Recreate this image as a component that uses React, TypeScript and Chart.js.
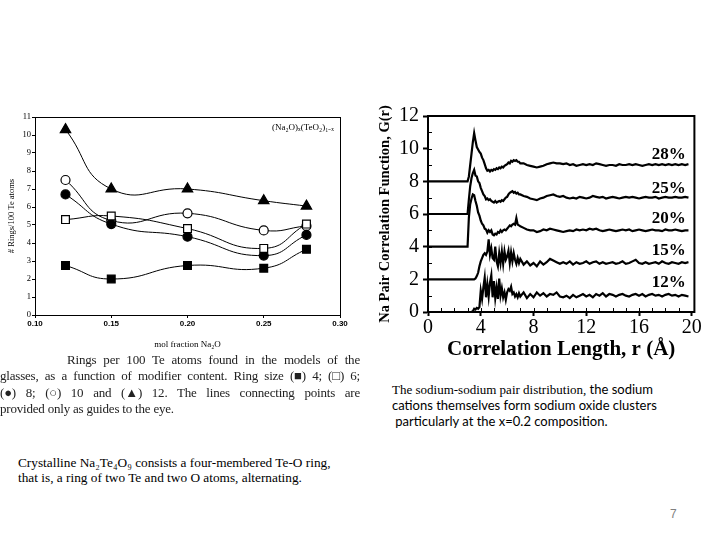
import React, { useEffect, useRef } from 'react';
import { Chart, registerables } from 'chart.js';
Chart.register(...registerables);

// ---------- Left chart: rings per 100 Te atoms ----------
const molFraction = [0.12, 0.15, 0.2, 0.25, 0.278];
const ring4 = [2.75, 2.0, 2.75, 2.6, 3.65];
const ring6 = [5.3, 5.5, 4.8, 3.7, 5.05];
const ring8 = [6.7, 5.05, 4.35, 3.3, 4.45];
const ring10 = [7.5, 5.25, 5.65, 4.7, 4.95];
const ring12 = [10.3, 7.0, 7.0, 6.35, 6.05];
const molTicks = [0.1, 0.15, 0.2, 0.25, 0.3];
const ringTicks = [0, 1, 2, 3, 4, 5, 6, 7, 8, 9, 10, 11];

// ---------- Right chart: Na pair correlation function ----------
const rGrid = [0,
  3.0, 3.1, 3.2, 3.3, 3.4, 3.5, 3.6, 3.7, 3.8, 3.9,
  4.0, 4.1, 4.2, 4.3, 4.4, 4.5, 4.6, 4.7, 4.8, 4.9,
  5.0, 5.1, 5.2, 5.3, 5.4, 5.5, 5.6, 5.7, 5.8, 5.9,
  6.0, 6.1, 6.2, 6.3, 6.4, 6.5, 6.6, 6.7, 6.8, 6.9,
  7.0,
  7.25, 7.5, 7.75, 8.0, 8.25, 8.5, 8.75, 9.0, 9.25, 9.5,
  9.75, 10.0, 10.25, 10.5, 10.75, 11.0, 11.25, 11.5, 11.75, 12.0,
  12.25, 12.5, 12.75, 13.0, 13.25, 13.5, 13.75, 14.0, 14.25, 14.5,
  14.75, 15.0, 15.25, 15.5, 15.75, 16.0, 16.25, 16.5, 16.75, 17.0,
  17.25, 17.5, 17.75, 18.0, 18.25, 18.5, 18.75, 19.0, 19.25, 19.5,
  19.75];

const g28 = [8,
  8, 8.3, 9.0, 9.7, 10.4, 10.95, 10.5, 10.1, 9.95, 9.8,
  9.7, 9.45, 9.3, 9.05, 8.8, 8.65, 8.7, 8.6, 8.7, 8.65,
  8.75, 8.7, 8.8, 8.75, 8.85, 8.8, 8.9, 8.85, 8.95, 9.0,
  9.05, 9.15, 9.1, 9.25, 9.2, 9.3, 9.25, 9.3, 9.2, 9.2,
  9.1,
  9.1, 9.0, 8.95, 8.9, 8.85, 8.9, 8.95, 9.05, 9.1, 9.15,
  9.1, 9.1, 9.05, 9.1, 9.0, 9.05, 8.95, 9.0, 9.05, 9.0,
  9.05, 9.0, 9.1, 9.05, 9.0, 8.95, 9.0, 9.0, 8.95, 9.05,
  9.0, 9.0, 9.05, 9.0, 9.05, 9.0, 8.95, 9.0, 9.05, 9.0,
  9.05, 9.0, 9.05, 9.0, 9.05, 9.0, 9.05, 9.0, 9.05, 9.0,
  9.05];

const g25 = [6,
  6, 6.9, 7.7, 8.2, 8.5, 8.7, 8.35, 8.3, 8.0, 7.9,
  7.6, 7.4, 7.2, 7.1, 6.9, 6.95, 6.85, 6.9, 6.8, 6.75,
  6.7, 6.8, 6.7, 6.75, 6.8, 6.75, 6.85, 6.8, 6.9, 7.0,
  7.05, 7.2, 7.3, 7.35, 7.4, 7.3, 7.35, 7.25, 7.3, 7.2,
  7.2,
  7.1, 7.05, 6.95, 6.9, 6.85, 6.95, 7.0, 7.1, 7.15, 7.2,
  7.1, 7.05, 7.1, 7.0, 6.95, 7.0, 6.95, 7.05, 7.0, 6.95,
  7.0, 7.1, 7.05, 7.0, 7.05, 6.95, 7.0, 7.05, 7.0, 6.95,
  7.0, 7.05, 7.0, 7.05, 7.0, 6.95, 7.0, 7.05, 7.0, 7.0,
  7.05, 6.95, 7.0, 7.05, 7.0, 7.0, 7.05, 7.0, 7.0, 7.05,
  7.0];

const g20 = [4,
  4, 5.8, 6.6, 6.95, 7.2, 7.15, 6.8, 6.5, 6.1, 5.9,
  5.6, 5.4, 5.3, 5.1, 5.05, 4.85, 5.0, 4.9, 5.0, 4.75,
  4.7, 4.8, 4.75, 4.9, 4.85, 5.0, 4.9, 5.0, 5.05, 5.0,
  5.1, 5.2, 5.3, 5.25, 5.35, 5.4, 5.35, 5.75, 5.35, 5.3,
  5.25,
  5.15, 5.05, 5.0, 5.0, 4.9, 4.95, 5.05, 5.0, 5.1, 5.05,
  5.0, 4.95, 4.9, 4.95, 5.0, 4.95, 5.05, 5.0, 5.05, 5.0,
  5.1, 5.05, 5.1, 5.0, 4.95, 5.0, 5.05, 5.0, 4.95, 5.0,
  5.05, 5.0, 5.05, 4.95, 5.0, 5.05, 5.0, 4.95, 5.0, 5.05,
  5.0, 5.0, 4.95, 5.05, 5.0, 5.0, 5.05, 5.0, 4.95, 5.0,
  5.0];

const g15 = [2,
  2, 2, 2, 2, 2, 2, 2.05, 2.2, 2.4, 2.8,
  3.1, 3.3, 3.5, 3.6, 3.5, 3.7, 4.45, 3.5, 3.9, 3.3,
  3.2, 4.0, 3.1, 2.8, 3.6, 3.0, 3.7, 2.95, 3.7, 3.2,
  3.4, 3.75, 3.0, 3.65, 3.1, 3.6, 3.2, 2.95, 3.3, 3.0,
  3.25,
  2.9, 3.1, 2.85, 3.0, 2.8, 3.1, 2.9, 3.05, 3.25, 3.15,
  3.05, 2.95, 3.05, 2.95, 3.1, 2.9, 3.05, 2.95, 3.0, 3.1,
  2.95, 3.05, 3.1, 2.95, 3.05, 2.95, 3.0, 3.05, 2.95, 3.0,
  3.1, 2.95, 3.0, 3.1, 3.2, 3.0, 2.95, 3.05, 2.95, 3.0,
  3.05, 2.95, 3.1, 3.0, 2.95, 3.05, 3.0, 2.95, 3.05, 3.0,
  3.05];

const g12 = [0,
  0, 0, 0, 0, 0.05, 0.2, 0.15, 0.25, 0.2, 0.3,
  1.3, 0.8, 1.5, 2.1, 0.9, 1.7, 0.95, 1.8, 2.25, 0.9,
  1.9, 0.85, 1.5, 0.8, 2.05, 1.0, 1.45, 0.9, 1.2, 0.75,
  1.2, 1.4, 1.3, 1.55, 1.1, 1.2, 0.95, 1.1, 0.9, 1.15,
  0.95,
  1.2, 0.85, 1.1, 0.9, 1.2, 1.0, 1.15, 0.95, 1.1, 1.05,
  1.2, 0.95, 0.9, 1.0, 0.85, 1.05, 0.9, 1.0, 1.1, 0.95,
  1.05, 0.9, 1.1, 1.0, 1.15, 0.95, 1.1, 1.05, 0.95, 1.05,
  1.1, 1.0, 0.95, 1.05, 1.1, 1.0, 1.1, 0.95, 1.05, 1.1,
  1.0, 1.05, 0.95, 1.05, 1.1, 1.0, 1.05, 0.95, 1.05, 1.0,
  0.95];

const curveLabels = ['28%', '25%', '20%', '15%', '12%'];
const curveLabelY = [9.63, 7.55, 5.7, 3.75, 1.77];
const curveLabelX = 19.55;
const rTicks = [0, 4, 8, 12, 16, 20];
const gTicks = [0, 2, 4, 6, 8, 10, 12];

const SERIF = '"Liberation Serif", "Times New Roman", serif';
const SANS = '"Liberation Sans", Arial, sans-serif';

function RingsChart() {
  const ref = useRef<HTMLCanvasElement>(null);
  useEffect(() => {
    const mk = (vals: number[], style: string, filled: boolean, radius: number) => ({
      data: molFraction.map((x, i) => ({ x, y: vals[i] })),
      borderColor: '#000',
      borderWidth: 1,
      tension: 0.5,
      fill: false,
      pointStyle: style,
      pointRadius: radius,
      pointBackgroundColor: filled ? '#000' : '#fff',
      pointBorderColor: '#000',
      pointBorderWidth: 1.2,
    });
    const frame = {
      id: 'frameLeft',
      afterDraw(chart: any) {
        const { ctx, chartArea: a, scales } = chart;
        ctx.save();
        ctx.strokeStyle = '#000';
        ctx.lineWidth = 1;
        ctx.strokeRect(a.left + 0.5, a.top + 0.5, a.right - a.left, a.bottom - a.top);
        ctx.fillStyle = '#000';
        ctx.font = `9px ${SERIF}`;
        ctx.textAlign = 'right';
        ctx.textBaseline = 'middle';
        ctx.fillText('(Na\u2082O)\u2093(TeO\u2082)\u2081\u208B\u2093', scales.x.getPixelForValue(0.296), scales.y.getPixelForValue(10.4));
        ctx.restore();
      },
    };
    const chart = new Chart(ref.current as HTMLCanvasElement, {
      type: 'line',
      data: {
        datasets: [
          mk(ring4, 'rect', true, 5.5),
          mk(ring6, 'rect', false, 5.5),
          mk(ring8, 'circle', true, 4.5),
          mk(ring10, 'circle', false, 4.5),
          mk(ring12, 'triangle', true, 6),
        ] as any,
      },
      options: {
        animation: false,
        responsive: true,
        maintainAspectRatio: false,
        layout: { padding: { top: 17, right: 20, left: 0, bottom: 0 } },
        plugins: { legend: { display: false }, tooltip: { enabled: false } },
        scales: {
          x: {
            type: 'linear',
            min: 0.1,
            max: 0.3,
            afterFit: (s: any) => { s.height = 45; },
            afterBuildTicks: (s: any) => { s.ticks = molTicks.map((v) => ({ value: v })); },
            ticks: {
              callback: (v: any) => Number(v).toFixed(2),
              font: { family: SANS, size: 8, weight: 'bold' },
              color: '#000',
              padding: 1,
              maxRotation: 0,
            },
            grid: { drawOnChartArea: false, color: '#000', tickLength: 3 },
            border: { color: '#000', width: 1 },
            title: {
              display: true,
              text: 'mol fraction Na\u2082O',
              font: { family: SERIF, size: 9 },
              color: '#000',
              padding: { top: 0, bottom: 9.6 },
            },
          },
          y: {
            type: 'linear',
            min: 0,
            max: 11,
            afterFit: (s: any) => { s.width = 35; },
            afterBuildTicks: (s: any) => { s.ticks = ringTicks.map((v) => ({ value: v })); },
            ticks: { font: { family: SERIF, size: 8.5 }, color: '#000', padding: 1 },
            grid: { drawOnChartArea: false, color: '#000', tickLength: 3 },
            border: { color: '#000', width: 1 },
            title: {
              display: true,
              text: '# Rings/100 Te atoms',
              font: { family: SERIF, size: 8.5 },
              color: '#000',
              padding: { top: 7, bottom: 0 },
            },
          },
        },
      } as any,
      plugins: [frame],
    });
    return () => chart.destroy();
  }, []);
  return <canvas ref={ref} />;
}

function PairChart() {
  const ref = useRef<HTMLCanvasElement>(null);
  useEffect(() => {
    const series = [g28, g25, g20, g15, g12];
    const deco = {
      id: 'decoRight',
      afterDraw(chart: any) {
        const { ctx, chartArea: a, scales } = chart;
        ctx.save();
        ctx.strokeStyle = '#000';
        ctx.lineWidth = 2;
        ctx.strokeRect(a.left, a.top, a.right - a.left, a.bottom - a.top);
        ctx.lineWidth = 1;
        ctx.beginPath();
        for (let v = 1; v < 12; v++) {
          const y = Math.round(scales.y.getPixelForValue(v)) + 0.5;
          ctx.moveTo(a.left, y);
          ctx.lineTo(a.left + 4, y);
        }
        for (let v = 1; v < 20; v++) {
          const x = Math.round(scales.x.getPixelForValue(v)) + 0.5;
          ctx.moveTo(x, a.bottom);
          ctx.lineTo(x, a.bottom - 4);
        }
        ctx.stroke();
        ctx.fillStyle = '#000';
        ctx.font = `bold 17px ${SERIF}`;
        ctx.textAlign = 'right';
        ctx.textBaseline = 'middle';
        curveLabels.forEach((t, i) => {
          ctx.fillText(t, scales.x.getPixelForValue(curveLabelX), scales.y.getPixelForValue(curveLabelY[i]));
        });
        ctx.restore();
      },
    };
    const chart = new Chart(ref.current as HTMLCanvasElement, {
      type: 'line',
      data: {
        datasets: series.map((vals) => ({
          data: rGrid.map((x, i) => ({ x, y: vals[i] })),
          borderColor: '#000',
          borderWidth: 2.2,
          pointRadius: 0,
          tension: 0,
          fill: false,
        })) as any,
      },
      options: {
        animation: false,
        responsive: true,
        maintainAspectRatio: false,
        layout: { padding: { top: 21, right: 25.6, left: 0, bottom: 0 } },
        plugins: { legend: { display: false }, tooltip: { enabled: false } },
        scales: {
          x: {
            type: 'linear',
            min: 0,
            max: 20.2,
            afterFit: (s: any) => { s.height = 53; },
            afterBuildTicks: (s: any) => { s.ticks = rTicks.map((v) => ({ value: v })); },
            ticks: { font: { family: SERIF, size: 20 }, color: '#000', padding: 0, maxRotation: 0 },
            grid: { drawOnChartArea: false, color: '#000', tickLength: 4, tickWidth: 2 },
            border: { color: '#000', width: 2 },
            title: {
              display: true,
              text: 'Correlation Length, r (\u00C5)',
              font: { family: SERIF, size: 21, weight: 'bold' },
              color: '#000',
              padding: { top: 0, bottom: 2.4 },
            },
          },
          y: {
            type: 'linear',
            min: 0,
            max: 12,
            afterFit: (s: any) => { s.width = 58; },
            afterBuildTicks: (s: any) => { s.ticks = gTicks.map((v) => ({ value: v })); },
            ticks: { font: { family: SERIF, size: 20 }, color: '#000', padding: 4 },
            grid: { drawOnChartArea: false, color: '#000', tickLength: 5, tickWidth: 2 },
            border: { color: '#000', width: 2 },
            title: {
              display: true,
              text: 'Na Pair Correlation Function, G(r)',
              font: { family: SERIF, size: 14.5, weight: 'bold' },
              color: '#000',
              padding: { top: 6.3, bottom: 0 },
            },
          },
        },
      } as any,
      plugins: [deco],
    });
    return () => chart.destroy();
  }, []);
  return <canvas ref={ref} />;
}

const captionLines = [
  'Rings per 100 Te atoms found in the models of the',
  'glasses, as a function of modifier content. Ring size (\u25A0) 4; (\u25A1) 6;',
  '(\u25CF) 8; (\u25CB) 10 and (\u25B2) 12. The lines connecting points are',
  'provided only as guides to the eye.',
];

function renderCaptionLine(text: string) {
  const parts = text.split(/(\([\u25A0\u25A1\u25CF\u25CB\u25B2]\))/);
  return parts.map((p, i) =>
    /^\([\u25A0\u25A1\u25CF\u25CB\u25B2]\)$/.test(p)
      ? <span key={i} style={{ display: 'inline-block' }}>{p}</span>
      : <React.Fragment key={i}>{p}</React.Fragment>
  );
}

export default function App() {
  return (
    <div style={{ position: 'absolute', left: 0, top: 0, width: 720, height: 540, background: '#fff', overflow: 'hidden' }}>
      <div style={{ position: 'absolute', left: 0, top: 100, width: 360, height: 260 }}>
        <RingsChart />
      </div>
      <div style={{ position: 'absolute', left: 370, top: 95, width: 350, height: 270 }}>
        <PairChart />
      </div>
      <div style={{ position: 'absolute', left: 0, top: 352, width: 360, fontFamily: SERIF, fontSize: 13, letterSpacing: -0.2, lineHeight: '16.3px', color: '#222' }}>
        {captionLines.map((l, i) => (
          <div key={i} style={{
            whiteSpace: 'nowrap',
            textAlign: 'justify',
            textAlignLast: i < captionLines.length - 1 ? 'justify' : 'left',
            paddingLeft: i === 0 ? 67 : 0,
          } as any}>{renderCaptionLine(l)}</div>
        ))}
      </div>
      <div style={{ position: 'absolute', left: 18, top: 454.5, fontFamily: SERIF, fontSize: 13.3, lineHeight: '15px', color: '#000', whiteSpace: 'nowrap' }}>
        <div>Crystalline Na{'\u2082'}Te{'\u2084'}O{'\u2089'} consists a four-membered Te-O ring,</div>
        <div>that is, a ring of two Te and two O atoms, alternating.</div>
      </div>
      <div style={{ position: 'absolute', left: 392, top: 382, fontFamily: 'Lato, "Liberation Sans", sans-serif', fontSize: 13, lineHeight: '15.8px', color: '#000', whiteSpace: 'nowrap' }}>
        <div><span style={{ fontFamily: SERIF, fontSize: 13 }}>The sodium-sodium pair distribution,</span> the sodium</div>
        <div>cations themselves form sodium oxide clusters</div>
        <div>&nbsp;particularly at the x=0.2 composition.</div>
      </div>
      <div style={{ position: 'absolute', left: 670, top: 507, fontFamily: SANS, fontSize: 12, color: '#7f7f7f' }}>7</div>
    </div>
  );
}
